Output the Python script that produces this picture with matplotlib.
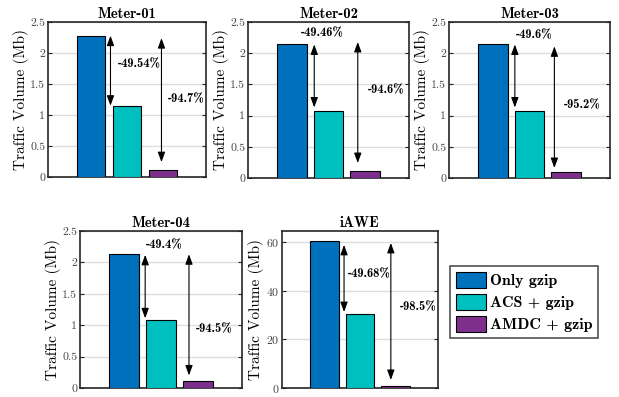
import matplotlib
matplotlib.use('Agg')
import matplotlib.pyplot as plt
from matplotlib.patches import Patch

plt.rcParams['font.family'] = 'cmr10'
plt.rcParams['axes.formatter.use_mathtext'] = True

titles = ['Meter-01', 'Meter-02', 'Meter-03', 'Meter-04', 'iAWE']
methods = ['Only gzip', 'ACS + gzip', 'AMDC + gzip']
colors = ['#0072BD', '#00BFBF', '#7E2F8E']

only_gzip = [2.28, 2.14, 2.14, 2.14, 60.2]
acs_gzip = [1.15, 1.08, 1.08, 1.085, 30.3]
amdc_gzip = [0.115, 0.115, 0.103, 0.118, 0.9]

pct_acs = ['-49.54%', '-49.46%', '-49.6%', '-49.4%', '-49.68%']
pct_amdc = ['-94.7%', '-94.6%', '-95.2%', '-94.5%', '-98.5%']

# arrow ends and label positions
arrow1 = [(0.54, 2.28, 1.15), (0.61, 2.14, 1.13), (0.6, 2.14, 1.13), (0.57, 2.12, 1.11), (0.55, 58.8, 31.2)]
arrow2 = [(1.96, 2.24, 0.24), (1.8, 2.18, 0.24), (1.68, 2.11, 0.16), (1.76, 2.13, 0.2), (1.87, 59.6, 3.3)]
text1 = [(0.74, 1.82), (0.25, 2.32), (0.63, 2.29), (0.6, 2.28), (0.66, 46.8)]
text2 = [(2.15, 1.26), (2.08, 1.4), (1.93, 1.16), (1.96, 0.94), (2.12, 33.3)]

# axes boxes in pixels: left, right, top, bottom
W, H = 619, 397
boxes = [(48, 206, 22, 177), (248, 409, 22, 178), (449, 610, 22, 178),
         (80, 242, 231, 388), (282, 438, 231, 388)]

fig = plt.figure(figsize=(W / 100, H / 100), dpi=100)

for i in range(5):
    l, r, t, b = boxes[i]
    ax = fig.add_axes([l / W, 1 - b / H, (r - l) / W, (b - t) / H])
    vals = [only_gzip[i], acs_gzip[i], amdc_gzip[i]]
    ax.bar([0, 1, 2], vals, width=0.8, color=colors, edgecolor='black', linewidth=0.8, zorder=3)
    ax.set_xlim(-1.2, 3.2)
    if i == 4:
        ax.set_ylim(0, 64.5)
        ax.set_yticks([0, 20, 40, 60])
    else:
        ax.set_ylim(0, 2.5)
        ax.set_yticks([0, 0.5, 1, 1.5, 2, 2.5])
        ax.set_yticklabels(['0', '0.5', '1', '1.5', '2', '2.5'])
    ax.set_xticks([])
    ax.yaxis.grid(True, color='#dddddd', linewidth=1.0, zorder=0)
    ax.tick_params(axis='y', direction='in', right=True, length=3, width=0.8,
                   labelsize=8.5, colors='#222222', labelcolor='#444444', pad=2)
    for s in ax.spines.values():
        s.set_linewidth(1.2)
        s.set_color('#262626')
    ax.set_title(titles[i], fontfamily='cmb10', fontsize=10.5, pad=3)
    ax.set_ylabel('Traffic Volume (Mb)', fontsize=11, labelpad=1)

    x, y0, y1 = arrow1[i]
    ax.annotate('', xy=(x, y1), xytext=(x, y0),
                arrowprops=dict(arrowstyle='<|-|>,head_length=0.6,head_width=0.22',
                                color='black', lw=0.8, shrinkA=0, shrinkB=0), zorder=4)
    x, y0, y1 = arrow2[i]
    ax.annotate('', xy=(x, y1), xytext=(x, y0),
                arrowprops=dict(arrowstyle='<|-|>,head_length=0.6,head_width=0.22',
                                color='black', lw=0.8, shrinkA=0, shrinkB=0), zorder=4)
    ax.text(text1[i][0], text1[i][1], pct_acs[i], fontfamily='cmb10', fontsize=9,
            ha='left', va='center', zorder=5)
    ax.text(text2[i][0], text2[i][1], pct_amdc[i], fontfamily='cmb10', fontsize=9,
            ha='left', va='center', zorder=5)

handles = [Patch(facecolor=c, edgecolor='black', linewidth=0.8) for c in colors]
leg = fig.legend(handles, methods, loc='upper left',
                 bbox_to_anchor=(450 / W, 1 - 266 / H),
                 prop={'family': 'cmb10', 'size': 11.5}, frameon=True, fancybox=False,
                 handlelength=1.9, handleheight=1.2, handletextpad=0.25,
                 labelspacing=0.35, borderpad=0.35, borderaxespad=0)
leg.get_frame().set_edgecolor('#262626')
leg.get_frame().set_linewidth(1.2)

fig.savefig('out.png', dpi=100)
